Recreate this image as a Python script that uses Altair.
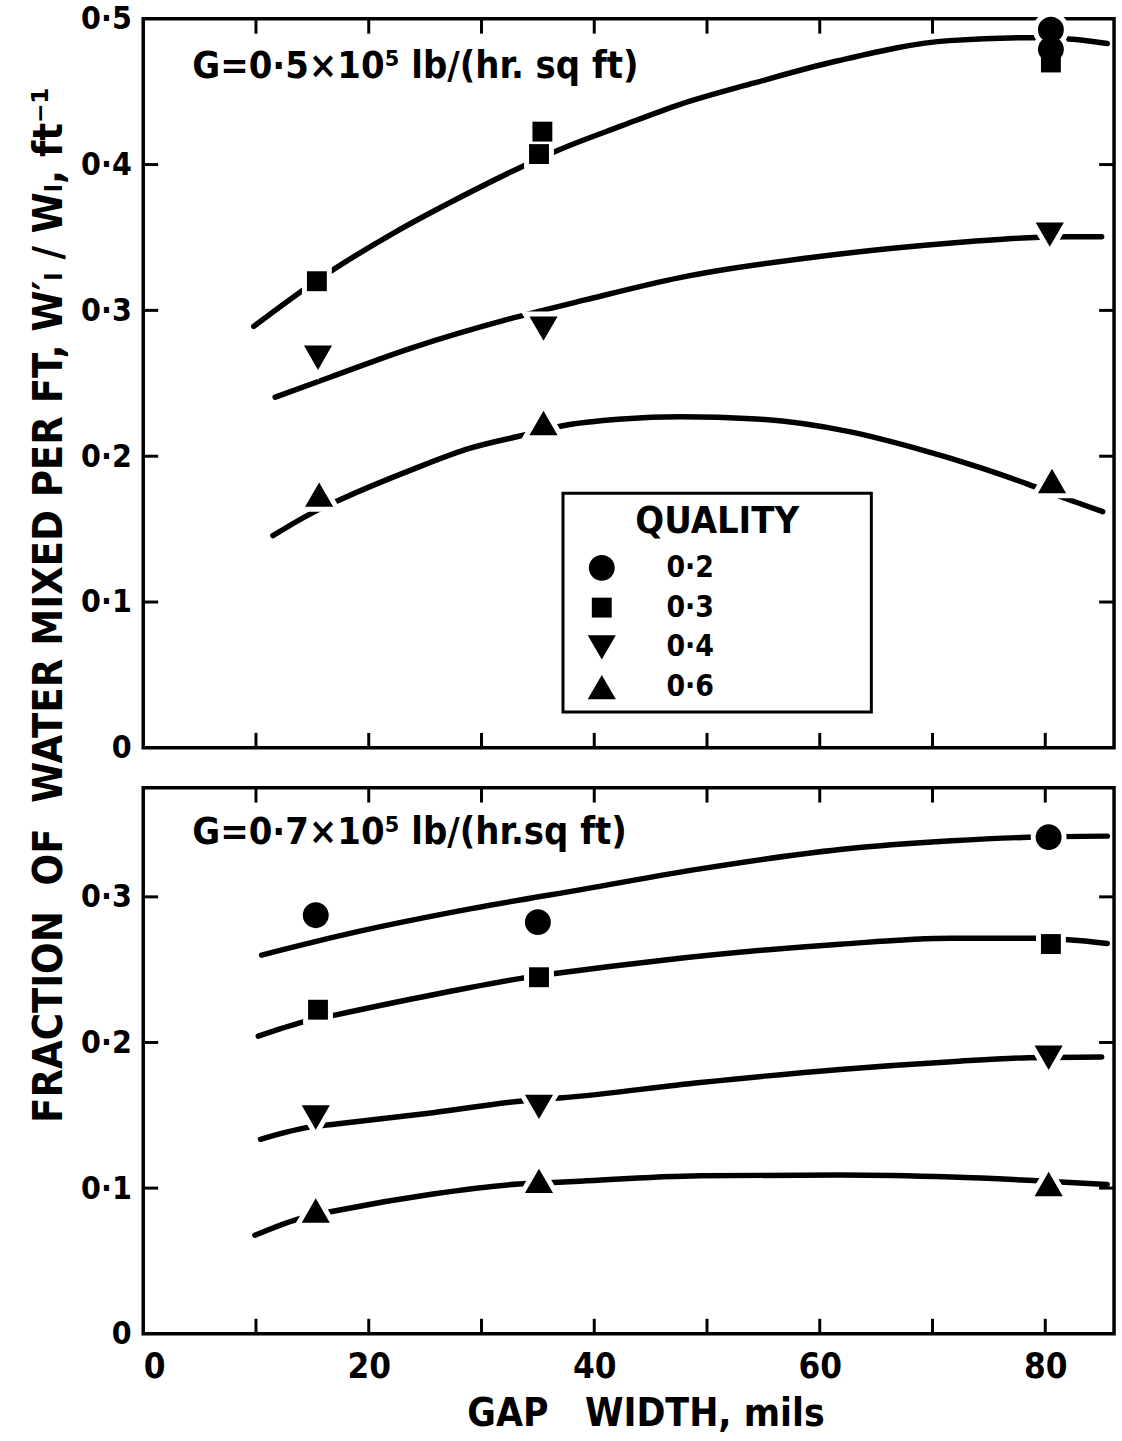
import altair as alt
import pandas as pd

FONT = "DejaVu Sans Condensed, DejaVu Sans"
NB = "\u00a0"
BLANK = "\u2800"

# ---------------- categories / styles ----------------
QUALITIES = ["0.2", "0.3", "0.4", "0.6"]
SHAPES = ["circle", "square", "triangle-down", "triangle-up"]
SIZES = [676, 400, 800, 800]

X_TICKS = [10, 20, 30, 40, 50, 60, 70, 80]
X_LABELS = [0, 20, 40, 60, 80]
TOP_Y_LABELS = [0, 0.1, 0.2, 0.3, 0.4, 0.5]
TOP_Y_TICKS = [0.1, 0.2, 0.3, 0.4]
BOT_Y_LABELS = [0, 0.1, 0.2, 0.3]
BOT_Y_TICKS = [0.1, 0.2, 0.3]

# ---------------- top panel: G = 0.5e5 lb/(hr sq ft) ----------------
top_pt_quality = ["0.2", "0.2", "0.3", "0.3", "0.3", "0.3", "0.4", "0.4", "0.4", "0.6", "0.6", "0.6"]
top_pt_gap = [80.5, 80.5, 15.4, 35.4, 35.1, 80.5, 15.5, 35.5, 80.4, 15.6, 35.5, 80.6]
top_pt_frac = [0.4925, 0.479, 0.320, 0.4226, 0.4072, 0.470, 0.2675, 0.2875, 0.352, 0.1737, 0.2228, 0.1830]

top_a_gap = [9.8, 15.3, 22.2, 27.6, 33.3, 37.0, 42.4, 47.5, 54.2, 61.5, 71.5, 79.0, 82.4, 85.5]
top_a_frac = [0.289, 0.320, 0.353, 0.3755, 0.3975, 0.4105, 0.4265, 0.441, 0.456, 0.471, 0.485, 0.487, 0.486, 0.483]
top_b_gap = [11.7, 16.5, 23.9, 32.4, 39.1, 47.6, 61.6, 71.7, 78.5, 82.0, 85.0]
top_b_frac = [0.2405, 0.254, 0.2745, 0.294, 0.307, 0.3225, 0.3385, 0.3462, 0.3498, 0.3505, 0.3505]
top_c_gap = [11.5, 15.2, 17.4, 23.9, 29.0, 34.0, 37.1, 42.5, 47.6, 54.4, 62.5, 68.4, 74.3, 78.5, 82.0, 85.1]
top_c_frac = [0.1455, 0.162, 0.170, 0.191, 0.2055, 0.2149, 0.2207, 0.2255, 0.227, 0.2255, 0.217, 0.2057, 0.192, 0.1807, 0.1705, 0.162]

top_note = "G=0\u00b75\u00d710\u2075 lb/(hr. sq ft)"
top_note_gap, top_note_frac = 4.35, 0.4595

# ---------------- bottom panel: G = 0.7e5 lb/(hr sq ft) ----------------
bot_pt_quality = ["0.2", "0.2", "0.2", "0.3", "0.3", "0.3", "0.4", "0.4", "0.4", "0.6", "0.6", "0.6"]
bot_pt_gap = [15.3, 35.0, 80.3, 15.5, 35.1, 80.5, 15.3, 35.1, 80.3, 15.3, 35.1, 80.3]
bot_pt_frac = [0.2874, 0.2826, 0.341, 0.2225, 0.2448, 0.2676, 0.1485, 0.1558, 0.1895, 0.0846, 0.105, 0.1028]

bot_a_gap = [10.5, 18.9, 29.1, 39.2, 49.4, 61.8, 71.7, 78.5, 85.5]
bot_a_frac = [0.260, 0.2759, 0.2919, 0.3055, 0.3192, 0.3325, 0.3385, 0.3409, 0.3417]
bot_b_gap = [10.2, 14.3, 17.1, 25.7, 33.5, 36.7, 46.1, 61.8, 71.7, 79.1, 85.5]
bot_b_frac = [0.2043, 0.2143, 0.219, 0.2328, 0.244, 0.2475, 0.2565, 0.2675, 0.2715, 0.2715, 0.268]
bot_c_gap = [10.4, 14.5, 17.1, 25.7, 33.4, 37.2, 49.4, 61.8, 71.7, 78.5, 85.0]
bot_c_frac = [0.1335, 0.1415, 0.144, 0.1518, 0.1597, 0.162, 0.1725, 0.1815, 0.1868, 0.1895, 0.190]
bot_d_gap = [9.9, 13.8, 17.2, 25.7, 33.3, 36.9, 49.4, 61.8, 71.7, 78.5, 85.5]
bot_d_frac = [0.0676, 0.0789, 0.0846, 0.096, 0.1028, 0.104, 0.1085, 0.109, 0.1076, 0.1054, 0.1025]

bot_note = "G=0\u00b77\u00d710\u2075 lb/(hr.sq ft)"
bot_note_gap, bot_note_frac = 4.35, 0.3363

Y_TITLE = ("FRACTION" + NB + NB + "OF" + NB + NB + "WATER MIXED PER FT," + NB +
           "W\u2032\u2097 / W\u2097, ft\u207b\u00b9")
X_TITLE = "GAP" + NB + NB + NB + "WIDTH, mils"

# ---------------- tables ----------------
def curves_df(*pairs):
    rows = []
    for i, (g, f) in enumerate(pairs):
        for a, b in zip(g, f):
            rows.append({"curve": i, "gap": a, "frac": b})
    return pd.DataFrame(rows)

top_pts = pd.DataFrame({"quality": top_pt_quality, "gap": top_pt_gap, "frac": top_pt_frac})
bot_pts = pd.DataFrame({"quality": bot_pt_quality, "gap": bot_pt_gap, "frac": bot_pt_frac})
top_curves = curves_df((top_a_gap, top_a_frac), (top_b_gap, top_b_frac), (top_c_gap, top_c_frac))
bot_curves = curves_df((bot_a_gap, bot_a_frac), (bot_b_gap, bot_b_frac),
                       (bot_c_gap, bot_c_frac), (bot_d_gap, bot_d_frac))
top_notes = pd.DataFrame({"gap": [top_note_gap], "frac": [top_note_frac], "label": [top_note]})
bot_notes = pd.DataFrame({"gap": [bot_note_gap], "frac": [bot_note_frac], "label": [bot_note]})

W = 976
TOP_H = 733
BOT_H = 549
TICK = 15
LABEL_EXPR = "datum.value == 0 ? '0' : replace(format(datum.value, '.1f'), '.', '\u00b7')"

shape_scale = alt.Scale(domain=QUALITIES, range=SHAPES)
size_scale = alt.Scale(type="ordinal", domain=QUALITIES, range=SIZES)

legend = alt.Legend(
    title="QUALITY", orient="none", legendX=422, legendY=477,
    padding=10, strokeColor="black", fillColor="white",
    symbolOffset=14, labelOffset=50, rowPadding=10, titlePadding=12,
    titleAnchor="middle", titleFont=FONT, titleFontSize=38, titleFontWeight="bold",
    titleColor="black", labelFont=FONT, labelFontSize=30, labelFontWeight="bold",
    labelColor="black", symbolFillColor="black", symbolStrokeWidth=0, labelLimit=500,
    labelExpr="replace(datum.label, '.', '\u00b7') + '" + BLANK * 7 + "'",
)


def panel(pts, curves, notes, ymax, ylabels, yticks, height, top):
    xscale = alt.Scale(domain=[0, 86.1], nice=False, zero=False)
    yscale = alt.Scale(domain=[0, ymax], nice=False, zero=True)
    if top:
        xaxis = None
        yaxis = alt.Axis(values=ylabels, labelExpr=LABEL_EXPR, labelPadding=12,
                         title=Y_TITLE, titleX=-82, titleY=589, titleAngle=270,
                         titleAlign="center", titleBaseline="alphabetic",
                         titleFontSize=41.5)
        X2 = alt.X("gap:Q", scale=xscale, axis=None)
    else:
        xaxis = alt.Axis(values=X_LABELS, labelPadding=16, labelFontSize=35,
                         title=X_TITLE, titlePadding=10, titleX=505, titleFontSize=39)
        yaxis = alt.Axis(values=ylabels, labelExpr=LABEL_EXPR, labelPadding=12, title=None)
        X2 = alt.X("gap:Q", scale=xscale)

    X = alt.X("gap:Q", scale=xscale, axis=xaxis)
    Y = alt.Y("frac:Q", scale=yscale, axis=yaxis)
    Y2 = alt.Y("frac:Q", scale=yscale)

    lines = alt.Chart(curves).mark_line(
        color="black", strokeWidth=5.5, strokeCap="round", interpolate="monotone"
    ).encode(x=X, y=Y, detail="curve:N", order="gap:Q")

    halo = alt.Chart(pts).mark_point(
        filled=True, opacity=1, color="white", stroke="white", strokeWidth=10
    ).encode(
        x=X2, y=Y2,
        shape=alt.Shape("quality:N", scale=shape_scale, legend=None),
        size=alt.Size("quality:N", scale=size_scale, legend=None),
    )
    leg = legend if top else None
    dots = alt.Chart(pts).mark_point(
        filled=True, opacity=1, color="black", strokeWidth=0
    ).encode(
        x=X2, y=Y2,
        shape=alt.Shape("quality:N", scale=shape_scale, legend=leg),
        size=alt.Size("quality:N", scale=size_scale, legend=leg),
    )

    xt = pd.DataFrame({"gap": X_TICKS})
    yt = pd.DataFrame({"frac": yticks})
    tick_bottom = alt.Chart(xt).mark_rule(color="black", strokeWidth=3).encode(
        x=X2, y=alt.value(height), y2=alt.value(height - TICK))
    tick_top = alt.Chart(xt).mark_rule(color="black", strokeWidth=3).encode(
        x=X2, y=alt.value(0), y2=alt.value(TICK))
    tick_left = alt.Chart(yt).mark_rule(color="black", strokeWidth=3).encode(
        y=Y2, x=alt.value(0), x2=alt.value(TICK))
    tick_right = alt.Chart(yt).mark_rule(color="black", strokeWidth=3).encode(
        y=Y2, x=alt.value(W), x2=alt.value(W - TICK))

    note = alt.Chart(notes).mark_text(
        align="left", baseline="alphabetic", font=FONT, fontSize=38,
        fontWeight="bold", color="black"
    ).encode(x=X2, y=Y2, text="label:N")

    return alt.layer(lines, tick_bottom, tick_top, tick_left, tick_right,
                     note, halo, dots).resolve_scale(
        shape="independent", size="independent"
    ).properties(width=W, height=height)


top = panel(top_pts, top_curves, top_notes, 0.5, TOP_Y_LABELS, TOP_Y_TICKS, TOP_H, True)
bottom = panel(bot_pts, bot_curves, bot_notes, 0.375, BOT_Y_LABELS, BOT_Y_TICKS, BOT_H, False)

chart = (
    alt.vconcat(top, bottom, spacing=40, bounds="flush")
    .resolve_scale(shape="independent", size="independent")
    .properties(padding={"left": 27, "top": -9, "right": 2, "bottom": 0}, background="white")
    .configure_view(stroke="black", strokeWidth=3.5)
    .configure_legend(strokeWidth=3)
    .configure_axis(grid=False, domain=False, ticks=False, labelFont=FONT,
                    labelFontSize=32, labelFontWeight="bold", labelColor="black",
                    titleFont=FONT, titleFontSize=41, titleFontWeight="bold",
                    titleColor="black")
)

chart.save("out.html", embed_options={"renderer": "svg", "actions": False})
